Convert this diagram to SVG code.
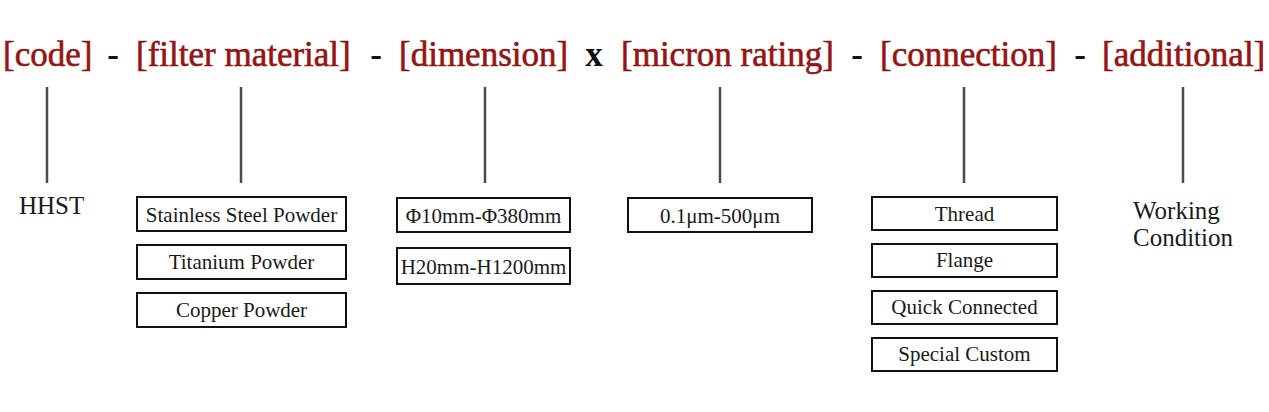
<svg xmlns="http://www.w3.org/2000/svg" width="1269" height="412" viewBox="0 0 1269 412">
<style>
.hd{font-family:"Liberation Serif","Times New Roman",serif;font-size:35px;fill:#961414;stroke:#961414;stroke-width:0.6}
.sep{font-family:"Liberation Serif","Times New Roman",serif;font-size:35px;font-weight:bold;fill:#111;text-anchor:middle}
.box{fill:#fff;stroke:#111;stroke-width:2}
.bt{font-family:"Liberation Serif","Times New Roman",serif;font-size:21px;fill:#1a1a1a;text-anchor:middle}
.pl{font-family:"Liberation Serif","Times New Roman",serif;font-size:25px;fill:#1a1a1a}
.ln{stroke:#4a4a4a;stroke-width:2.5}
</style>
<rect width="1269" height="412" fill="#fff"/>
<g id="header">
<text class="hd" x="3" y="66">[code]</text>
<text class="sep" x="113" y="66">-</text>
<text class="hd" x="136" y="66">[filter material]</text>
<text class="sep" x="376" y="66">-</text>
<text class="hd" x="399" y="66">[dimension]</text>
<text class="sep" x="594" y="66">x</text>
<text class="hd" x="621" y="66">[micron rating]</text>
<text class="sep" x="857" y="66">-</text>
<text class="hd" x="880" y="66">[connection]</text>
<text class="sep" x="1080" y="66">-</text>
<text class="hd" x="1102" y="66">[additional]</text>
</g>
<g id="connectors">
<line class="ln" x1="47" y1="87" x2="47" y2="183"/>
<line class="ln" x1="241" y1="87" x2="241" y2="183"/>
<line class="ln" x1="485" y1="87" x2="485" y2="183"/>
<line class="ln" x1="720" y1="87" x2="720" y2="183"/>
<line class="ln" x1="964" y1="87" x2="964" y2="183"/>
<line class="ln" x1="1183" y1="87" x2="1183" y2="183"/>
</g>
<g id="code">
<text class="pl" x="19" y="214">HHST</text>
</g>
<g id="material-stainless">
<rect class="box" x="137" y="197" width="209" height="34"/>
<text class="bt" x="241.5" y="222">Stainless Steel Powder</text>
</g>
<g id="material-titanium">
<rect class="box" x="137" y="245" width="209" height="34"/>
<text class="bt" x="241.5" y="269">Titanium Powder</text>
</g>
<g id="material-copper">
<rect class="box" x="137" y="293" width="209" height="34"/>
<text class="bt" x="241.5" y="317">Copper Powder</text>
</g>
<g id="dimension-diameter">
<rect class="box" x="397" y="198" width="173" height="34"/>
<text class="bt" x="483.5" y="223">Φ10mm-Φ380mm</text>
</g>
<g id="dimension-height">
<rect class="box" x="397" y="248" width="173" height="36"/>
<text class="bt" x="483.5" y="274">H20mm-H1200mm</text>
</g>
<g id="micron">
<rect class="box" x="628" y="198" width="184" height="34"/>
<text class="bt" x="720" y="223">0.1μm-500μm</text>
</g>
<g id="conn-thread">
<rect class="box" x="872" y="197" width="185" height="33"/>
<text class="bt" x="964.5" y="221">Thread</text>
</g>
<g id="conn-flange">
<rect class="box" x="872" y="244" width="185" height="33"/>
<text class="bt" x="964.5" y="267">Flange</text>
</g>
<g id="conn-quick">
<rect class="box" x="872" y="291" width="185" height="33"/>
<text class="bt" x="964.5" y="314">Quick Connected</text>
</g>
<g id="conn-special">
<rect class="box" x="872" y="338" width="185" height="33"/>
<text class="bt" x="964.5" y="361">Special Custom</text>
</g>
<g id="additional">
<text class="pl" x="1133" y="219">Working</text>
<text class="pl" x="1133" y="246">Condition</text>
</g>
</svg>
